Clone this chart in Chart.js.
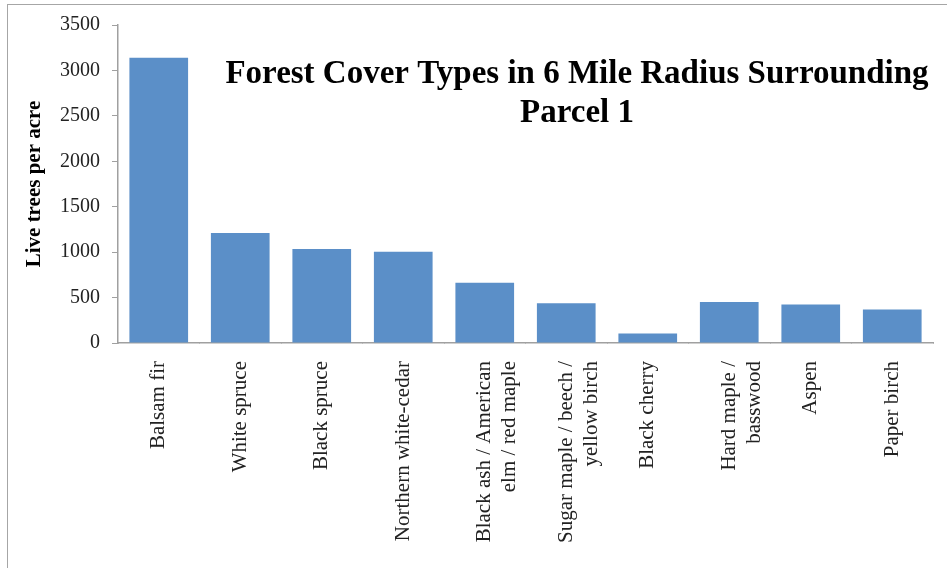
<!DOCTYPE html>
<html>
<head>
<meta charset="utf-8">
<script src="https://cdn.jsdelivr.net/npm/chart.js@4.4.1/dist/chart.umd.min.js"></script>
<style>
  html, body { margin: 0; padding: 0; background: #fff; overflow: hidden; }
  #wrap { position: relative; width: 947px; height: 568px; overflow: hidden; }
  #frame { position: absolute; left: 7px; top: 4px; width: 960px; height: 580px; border: 1px solid #a6a6a6; box-sizing: border-box; }
  canvas { position: absolute; left: 0; top: 0; }
</style>
</head>
<body>
<div id="wrap">
  <div id="frame"></div>
  <canvas id="forestChart" width="947" height="568"></canvas>
</div>
<script>
// categorias (rótulos do eixo x, quebrados em linhas)
const forestTypes = [
  "Balsam fir",
  "White spruce",
  "Black spruce",
  "Northern white-cedar",
  ["Black ash / American", "elm / red maple"],
  ["Sugar maple / beech /", "yellow birch"],
  "Black cherry",
  ["Hard maple /", "basswood"],
  "Aspen",
  "Paper birch"
];
// árvores vivas por acre
const treesPerAcre = [3140, 1210, 1035, 1005, 664, 437, 105, 451, 425, 370];
const yTicks = [0, 500, 1000, 1500, 2000, 2500, 3000, 3500];
const titleLines = ["Forest Cover Types in 6 Mile Radius Surrounding", "Parcel 1"];

const serif = "'Liberation Serif', 'Times New Roman', serif";

// título desenhado dentro da área do gráfico
const titlePlugin = {
  id: "innerTitle",
  afterDraw(chart) {
    const ctx = chart.ctx;
    ctx.save();
    ctx.fillStyle = "#000";
    ctx.font = "bold 33px " + serif;
    ctx.textAlign = "center";
    ctx.textBaseline = "alphabetic";
    ctx.fillText(titleLines[0], 577, 83);
    ctx.fillText(titleLines[1], 577, 122);
    ctx.restore();
  }
};

new Chart("forestChart", {
  type: "bar",
  data: {
    labels: forestTypes,
    datasets: [{
      data: treesPerAcre,
      backgroundColor: "#5b8fc8",
      barPercentage: 0.72,
      categoryPercentage: 1.0
    }]
  },
  options: {
    responsive: false,
    animation: false,
    layout: { padding: { left: 22, right: 14, top: 25, bottom: 0 } },
    plugins: {
      legend: { display: false },
      tooltip: { enabled: false },
      title: { display: false }
    },
    scales: {
      x: {
        grid: { display: true, drawOnChartArea: false, offset: true, color: "#a0a0a0", tickLength: 0 },
        border: { color: "#a0a0a0", width: 1.5 },
        ticks: {
          color: "#222",
          font: { family: serif, size: 21 },
          maxRotation: 90,
          minRotation: 90,
          padding: 18,
          autoSkip: false
        },
        afterFit(scale) { scale.height = 568 - 343; }
      },
      y: {
        min: 0,
        max: 3500,
        afterBuildTicks(scale) { scale.ticks = yTicks.map(v => ({ value: v })); },
        grid: { display: true, drawOnChartArea: false, color: "#a0a0a0", tickLength: 6 },
        border: { color: "#a0a0a0", width: 1.5 },
        ticks: {
          color: "#222",
          font: { family: serif, size: 20 },
          padding: 12,
          callback: v => String(v)
        },
        title: {
          display: true,
          text: "Live trees per acre",
          color: "#000",
          font: { family: serif, size: 21, weight: "bold" },
          padding: { top: 0, bottom: 4 }
        },
        afterFit(scale) { scale.width = 118 - 22; }
      }
    }
  },
  plugins: [titlePlugin]
});
</script>
</body>
</html>
